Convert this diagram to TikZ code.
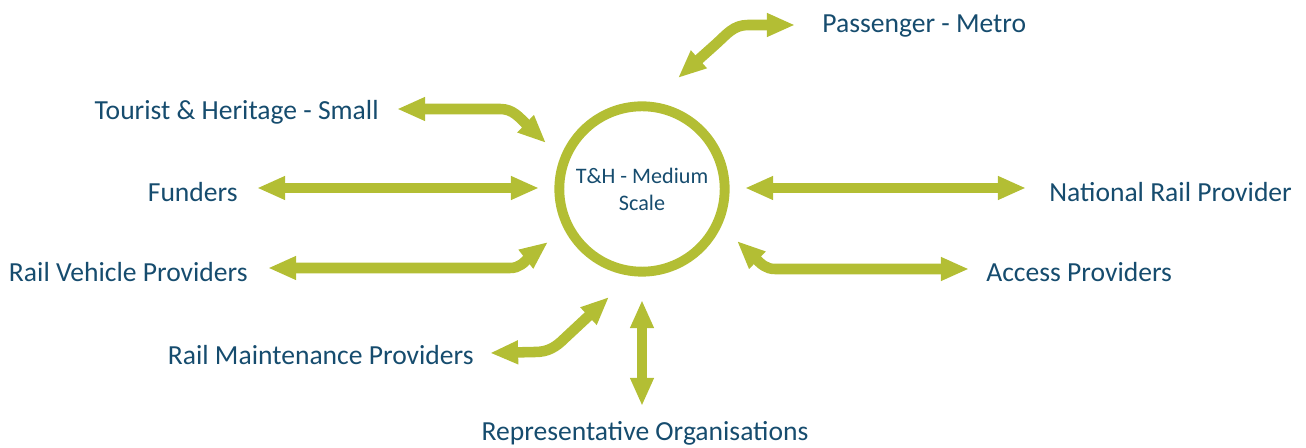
\documentclass[tikz,border=0pt]{standalone}
\usepackage{fontspec}
\setmainfont{Carlito}
\usetikzlibrary{arrows.meta}
\definecolor{leaf}{RGB}{179,190,52}
\definecolor{ink}{RGB}{22,76,110}
\tikzset{%
	link/.style = {draw = leaf, line width = 6pt,
		{Triangle[length=16pt, width=12.5pt]}-{Triangle[length=16pt, width=12.5pt]}},
	lbl/.style = {text = ink, font = \fontsize{15.7}{18}\selectfont, inner sep = 0pt},
	hub/.style = {circle, draw = leaf, line width = 5.6pt, minimum size = 166pt*0.567,
		text = ink, align = center, font = \fontsize{12.6}{15.3}\selectfont}
}
\begin{document}
\begin{tikzpicture}[x=0.02cm, y=-0.02cm]
	\useasboundingbox (0,0) rectangle (1306,448);
	\node [hub] (th) at (642,189) {T\&H - Medium\\Scale};
	% labels
	\node [lbl, anchor = west] (pm) at (822,26) {Passenger - Metro};
	\node [lbl, anchor = east] (ths) at (379,112) {Tourist \& Heritage - Small};
	\node [lbl, anchor = east] (fu) at (238,192) {Funders};
	\node [lbl, anchor = east] (rvp) at (248,272) {Rail Vehicle Providers};
	\node [lbl, anchor = east] (rmp) at (474,355) {Rail Maintenance Providers};
	\node [lbl] (ro) at (645,433) {Representative Organisations};
	\node [lbl, anchor = west] (nrp) at (1049,192) {National Rail Provider};
	\node [lbl, anchor = west] (ap) at (986,272) {Access Providers};
	% arrow ends
	\coordinate (pm-a) at (678,78);
	\coordinate (pm-b) at (795,25);
	\coordinate (ths-a) at (397,109);
	\coordinate (ths-b) at (546,143);
	\coordinate (fu-a) at (257,188);
	\coordinate (fu-b) at (539,188);
	\coordinate (nrp-a) at (745,188);
	\coordinate (nrp-b) at (1026,188);
	\coordinate (rvp-a) at (268,268);
	\coordinate (rvp-b) at (548,242);
	\coordinate (rmp-a) at (490,353);
	\coordinate (rmp-b) at (609,297);
	\coordinate (ro-a) at (642,300);
	\coordinate (ro-b) at (642,406);
	\coordinate (ap-a) at (737,241);
	\coordinate (ap-b) at (969,269);
	% arrows
	\path [link] (pm-a) -- (716,44) to [out=42, in=180] (748,25) -- (pm-b);
	\path [link] (ths-a) -- (500,109) to [out=0, in=135] (528,126) -- (ths-b);
	\path [link] (fu-a) -- (fu-b);
	\path [link] (nrp-a) -- (nrp-b);
	\path [link] (rvp-a) -- (510,268) to [out=0, in=-130] (530,256) -- (rvp-b);
	\path [link] (rmp-a) -- (535,352) to [out=0, in=-135] (565,338) -- (rmp-b);
	\path [link] (ro-a) -- (ro-b);
	\path [link] (ap-a) -- (755,258) to [out=-45, in=180] (775,269) -- (ap-b);
\end{tikzpicture}
\end{document}
